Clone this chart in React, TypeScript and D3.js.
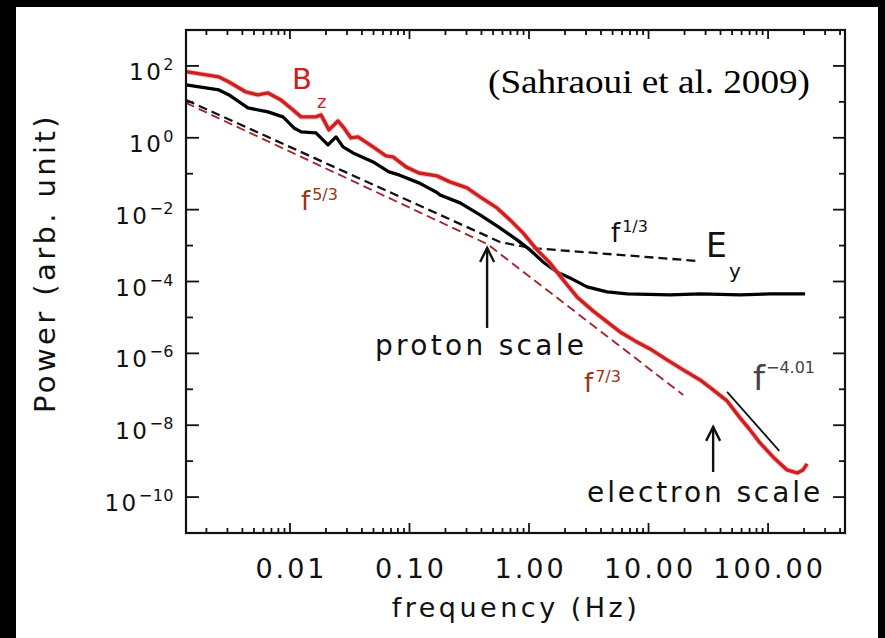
import React from 'react';
import * as d3 from 'd3';

const W = 885;
const H = 638;

const xDomain = [0.00135, 440];
const yDomain = [1e-11, 1e3];
const xTickValues = [0.01, 0.1, 1, 10, 100];
const xTickLabels = ['0.01', '0.10', '1.00', '10.00', '100.00'];
const yTickExps = [2, 0, -2, -4, -6, -8, -10];

// B_z spectrum (frequency Hz, power)
const bzFreq = [0.00135, 0.00255, 0.00309, 0.00428, 0.0054, 0.00655, 0.00841, 0.0106, 0.0124, 0.0165, 0.0182, 0.0212, 0.0252, 0.0283, 0.0324, 0.0371, 0.0496, 0.0636, 0.0728, 0.0935, 0.12, 0.17, 0.218, 0.303, 0.389, 0.54, 0.694, 0.891, 1.167, 1.5, 1.93, 2.52, 3.43, 4.5, 5.78, 7.71, 10.3, 14.3, 19.5, 27.0, 34.7, 45.4, 58.3, 70.7, 85.7, 110, 144, 175, 196, 212];
const bzPower = [69.4, 49.4, 35.9, 18.9, 15.6, 17.7, 11.3, 5.96, 3.81, 3.81, 4.33, 1.66, 2.94, 1.88, 0.99, 1.06, 0.557, 0.313, 0.293, 0.155, 0.105, 0.0869, 0.0592, 0.0403, 0.0226, 0.01117, 0.00518, 0.00225, 7.57e-4, 3.29e-4, 1.11e-4, 3.72e-5, 1.52e-5, 7.5e-6, 3.95e-6, 2.22e-6, 1.33e-6, 6.56e-7, 3.46e-7, 1.82e-7, 9.6e-8, 4.74e-8, 1.6e-8, 7.4e-9, 3.21e-9, 1.31e-9, 5.7e-10, 4.7e-10, 5.7e-10, 8.37e-10];

// E_y spectrum
const eyFreq = [0.00135, 0.00255, 0.00309, 0.00445, 0.00655, 0.00874, 0.0108, 0.0124, 0.0165, 0.0208, 0.0243, 0.0278, 0.0337, 0.0496, 0.0673, 0.0817, 0.12, 0.167, 0.18, 0.265, 0.389, 0.571, 0.794, 1.02, 1.31, 1.71, 2.2, 3.06, 4.5, 6.61, 15.1, 27.0, 58.3, 104, 204];
const eyPower = [29.6, 21.5, 15.6, 6.78, 5.25, 3.81, 1.88, 1.46, 1.37, 0.632, 1.06, 0.557, 0.379, 0.213, 0.112, 0.0925, 0.0555, 0.0311, 0.0257, 0.0154, 0.00713, 0.0031, 0.00144, 7.57e-4, 3.51e-4, 1.85e-4, 1.26e-4, 7.07e-5, 5.13e-5, 4.51e-5, 4.23e-5, 4.51e-5, 4.23e-5, 4.51e-5, 4.51e-5];

// Power-law fits
const eyFitFreq = [0.00135, 0.571, 1.02, 25.5];
const eyFitPower = [11.3, 1.26e-3, 8.61e-4, 3.74e-4];
const bzFitFreq = [0.00135, 0.446, 19.5];
const bzFitPower = [9.33, 1.11e-3, 6.97e-8];
const steepFitFreq = [45.4, 124];
const steepFitPower = [8.45e-8, 1.93e-9];

// Arrows: [frequency, power at tail, power at tip]
const protonArrow = [0.446, 5.1e-6, 8.6e-4];
const electronArrow = [34.7, 5.0e-10, 9.0e-9];

const RED = '#cc1f1f';
const DASH_RED = '#a3262e';
const BROWN = '#9c3414';
const SANS = '"DejaVu Sans", sans-serif';

function zip(a: number[], b: number[]): [number, number][] {
  return a.map((v, i) => [v, b[i]]);
}

export default function App() {
  const ml = 186, mr = 845, mt = 30, mb = 533;
  const x = d3.scaleLog().domain(xDomain).range([ml, mr]);
  const y = d3.scaleLog().domain(yDomain).range([mb, mt]);
  const line = d3.line<[number, number]>().x(d => x(d[0])).y(d => y(d[1]));

  const xMinor = x.ticks().filter(v => v > xDomain[0] && v < xDomain[1]);
  const yAll = d3.range(-10, 3).map(e => Math.pow(10, e));

  const arrow = (a: number[], key: string) => {
    const ax = x(a[0]);
    const y0 = y(a[1]);
    const y1 = y(a[2]);
    return (
      <g key={key} stroke="#111" strokeWidth={2.4} fill="none">
        <line x1={ax} x2={ax} y1={y0} y2={y1} />
        <path d={`M${ax - 7},${y1 + 14} L${ax},${y1} L${ax + 7},${y1 + 14}`} />
      </g>
    );
  };

  return (
    <svg width={W} height={H} style={{ position: 'absolute', left: 0, top: 0 }} fontFamily={SANS}>
      <rect x={0} y={0} width={W} height={H} fill="#000" />
      <rect x={16} y={7} width={862} height={H - 7} fill="#fff" />

      {/* frame ticks */}
      <g stroke="#111" strokeWidth={1.8}>
        {xMinor.map((v, i) => {
          const major = Math.abs(Math.log10(v) - Math.round(Math.log10(v))) < 1e-9;
          const len = major ? 10 : 5;
          return (
            <g key={'xt' + i}>
              <line x1={x(v)} x2={x(v)} y1={mb} y2={mb - len} />
              <line x1={x(v)} x2={x(v)} y1={mt} y2={mt + (major ? 9 : 5)} />
            </g>
          );
        })}
        {yAll.map((v, i) => {
          const e = Math.round(Math.log10(v));
          const major = e % 2 === 0;
          const len = major ? 13 : 7;
          return (
            <g key={'yt' + i}>
              <line x1={ml} x2={ml + len} y1={y(v)} y2={y(v)} />
              <line x1={mr} x2={mr - (major ? 12 : 6)} y1={y(v)} y2={y(v)} />
            </g>
          );
        })}
      </g>

      {/* fits */}
      <path d={line(zip(bzFitFreq, bzFitPower)) || ''} fill="none" stroke={DASH_RED} strokeWidth={1.9} strokeDasharray="9,5" />
      <path d={line(zip(eyFitFreq, eyFitPower)) || ''} fill="none" stroke="#111" strokeWidth={2.3} strokeDasharray="9,5" />
      <path d={line(zip(steepFitFreq, steepFitPower)) || ''} fill="none" stroke="#111" strokeWidth={1.8} />

      {/* spectra */}
      <path d={line(zip(eyFreq, eyPower)) || ''} fill="none" stroke="#000" strokeWidth={3.3} strokeLinejoin="round" />
      <path d={line(zip(bzFreq, bzPower)) || ''} fill="none" stroke="#f2a0a0" strokeWidth={5.5} strokeLinejoin="round" opacity={0.6} />
      <path d={line(zip(bzFreq, bzPower)) || ''} fill="none" stroke={RED} strokeWidth={3.4} strokeLinejoin="round" />

      {/* frame */}
      <rect x={ml} y={mt} width={mr - ml} height={mb - mt} fill="none" stroke="#111" strokeWidth={2.2} />

      {/* arrows */}
      {arrow(protonArrow, 'pa')}
      {arrow(electronArrow, 'ea')}

      {/* y tick labels */}
      {yTickExps.map(e => (
        <text key={'yl' + e} x={174} y={y(Math.pow(10, e)) + 14} textAnchor="end" fontSize={23} letterSpacing={2.5} fill="#111">
          10
          <tspan dy={-10} fontSize={16} letterSpacing={0.5}>{e < 0 ? '\u2212' + Math.abs(e) : String(e)}</tspan>
        </text>
      ))}

      {/* x tick labels */}
      {xTickValues.map((v, i) => (
        <text key={'xl' + i} x={x(v) + 1.5} y={578} textAnchor="middle" fontSize={27} letterSpacing={3} fill="#111">
          {xTickLabels[i]}
        </text>
      ))}

      {/* axis titles */}
      <text x={516} y={617} textAnchor="middle" fontSize={27} letterSpacing={3.5} fill="#111">frequency (Hz)</text>
      <text transform="translate(55,263) rotate(-90)" textAnchor="middle" fontSize={29} letterSpacing={3.4} fill="#111">Power (arb. unit)</text>

      {/* citation */}
      <text x={488} y={93} fontFamily='"Liberation Serif", "Times New Roman", serif' fontSize={33} textLength={322} lengthAdjust="spacingAndGlyphs" fill="#000">(Sahraoui et al. 2009)</text>

      {/* B_z label */}
      <text x={292} y={89} fontSize={29} fill={RED}>B</text>
      <text x={317} y={108} fontSize={18} fill={RED}>z</text>

      {/* E_y label */}
      <text x={706} y={257} fontSize={33} fill="#111">E</text>
      <text x={729} y={278} fontSize={20} fill="#111">y</text>

      {/* power law labels */}
      <text x={301} y={210} fontSize={26} fill={BROWN}>
        f<tspan dx={2} dy={-10} fontSize={16}>5/3</tspan>
      </text>
      <text x={584} y={392} fontSize={26} fill={BROWN}>
        f<tspan dx={2} dy={-10} fontSize={16}>7/3</tspan>
      </text>
      <text x={611} y={242} fontSize={26} fill="#111">
        f<tspan dx={2} dy={-10} fontSize={16}>1/3</tspan>
      </text>
      <text x={753} y={390} fontSize={34} fill="#444">
        f<tspan dx={1} dy={-17} fontSize={16}>{'\u22124.01'}</tspan>
      </text>

      {/* scale annotations */}
      <text x={375} y={355} fontSize={28} letterSpacing={3.3} fill="#111">proton scale</text>
      <text x={587} y={502} fontSize={28} letterSpacing={2.9} fill="#111">electron scale</text>
    </svg>
  );
}
